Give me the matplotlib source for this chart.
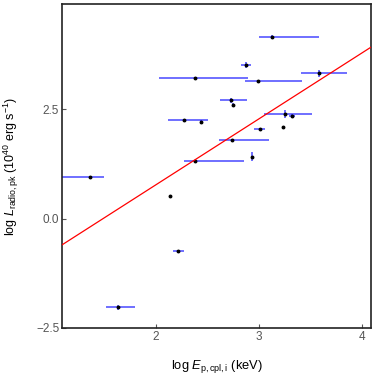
import matplotlib
matplotlib.use("Agg")
import matplotlib.pyplot as plt
import numpy as np

plt.rcParams['font.family'] = ['Liberation Sans', 'DejaVu Sans']
plt.rcParams['mathtext.fontset'] = 'custom'
plt.rcParams['mathtext.rm'] = 'Liberation Sans'
plt.rcParams['mathtext.it'] = 'Liberation Sans:italic'
plt.rcParams['mathtext.bf'] = 'Liberation Sans:bold'

# data: log Ep (keV), log L_radio,pk
log_ep = [3.13, 2.873, 2.38, 2.99, 3.587, 2.73, 2.746, 2.27, 2.435, 3.25,
          3.32, 3.006, 3.23, 2.733, 2.93, 2.38, 1.36, 2.136, 2.217, 1.633]
log_l = [4.16, 3.51, 3.22, 3.14, 3.33, 2.71, 2.61, 2.27, 2.21, 2.40,
         2.36, 2.05, 2.09, 1.79, 1.42, 1.33, 0.963, 0.51, -0.74, -2.03]
ep_err_lo = [0.13, 0.05, 0.35, 0.13, 0.18, 0.11, 0.0, 0.15, 0.0, 0.20,
             0.03, 0.05, 0.0, 0.12, 0.0, 0.11, 0.40, 0.0, 0.05, 0.12]
ep_err_hi = [0.45, 0.05, 0.51, 0.43, 0.27, 0.15, 0.0, 0.23, 0.0, 0.27,
             0.03, 0.05, 0.0, 0.36, 0.0, 0.47, 0.13, 0.0, 0.05, 0.16]
l_err = [0.05, 0.07, 0.02, 0.02, 0.08, 0.06, 0.03, 0.02, 0.05, 0.09,
         0.03, 0.02, 0.04, 0.02, 0.11, 0.02, 0.02, 0.02, 0.02, 0.06]

fit_slope = 1.505
fit_intercept = -2.23

fig = plt.figure(figsize=(3.74, 3.74), dpi=100)
ax = fig.add_axes([0.166, 0.123, 0.826, 0.866])

ax.errorbar(log_ep, log_l, xerr=[ep_err_lo, ep_err_hi], yerr=l_err,
            fmt='none', ecolor='#1a1aff', elinewidth=1.1, capsize=0, alpha=0.8, zorder=2)
ax.plot(log_ep, log_l, 'o', color='black', markersize=1.8, zorder=3)

xlim = (1.085, 4.09)
xs = np.array(xlim)
ax.plot(xs, fit_slope * xs + fit_intercept, color='red', lw=0.9, zorder=4)

ax.set_xlim(*xlim)
ax.set_ylim(-2.5, 4.91)
ax.set_xticks([2, 3, 4])
ax.set_xticklabels(['2', '3', '4'])
ax.set_yticks([-2.5, 0.0, 2.5])
ax.set_yticklabels(['\u22122.5', '0.0', '2.5'])
ax.tick_params(direction='in', length=3, width=0.8, color='#555555',
               labelcolor='#555555', labelsize=8.5, pad=2)
for s in ax.spines.values():
    s.set_linewidth(1.2)
    s.set_color('#222222')

ax.set_xlabel(r'log $E_{\rm p,cpl,i}$ (keV)', fontsize=9.3, labelpad=11)
ax.set_ylabel(r'log $L_{\rm radio,pk}$ (10$^{40}$ erg s$^{-1}$)', fontsize=9.0, labelpad=11)

fig.savefig('out.png', dpi=100)
